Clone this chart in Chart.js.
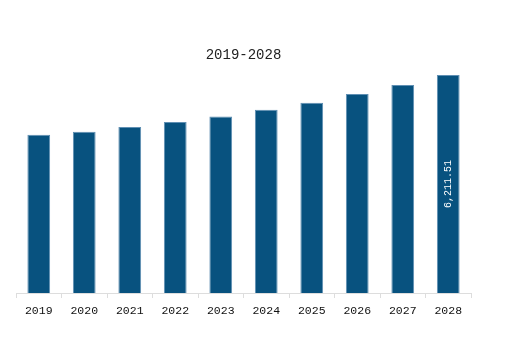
<!DOCTYPE html>
<html>
<head>
<meta charset="utf-8">
<script src="https://cdn.jsdelivr.net/npm/chart.js@4/dist/chart.umd.min.js"></script>
<style>
  html, body { margin: 0; padding: 0; background: #fff; }
  #wrap { width: 522px; height: 343px; }
</style>
</head>
<body>
<div id="wrap"><canvas id="myChart"></canvas></div>
<script>
// data
const years = ['2019', '2020', '2021', '2022', '2023', '2024', '2025', '2026', '2027', '2028'];
const marketValues = [4508, 4594, 4728, 4870, 5030, 5221, 5421, 5669, 5926, 6211.51];
const labelledYear = '2028'; // only the last bar carries its value
const titleText = '2019-2028';
const monoFont = '"Liberation Mono", "DejaVu Sans Mono", monospace';

// writes the value vertically inside the labelled bar
const barValuePlugin = {
  id: 'barValue',
  afterDatasetsDraw(chart) {
    const ctx = chart.ctx;
    const meta = chart.getDatasetMeta(0);
    const i = years.indexOf(labelledYear);
    const bar = meta.data[i];
    if (!bar) return;
    const txt = marketValues[i].toLocaleString('en-US', { minimumFractionDigits: 2 });
    ctx.save();
    ctx.translate(bar.x, (bar.y + bar.base) / 2);
    ctx.rotate(-Math.PI / 2);
    ctx.fillStyle = '#ffffff';
    ctx.font = '10px ' + monoFont;
    ctx.textAlign = 'center';
    ctx.textBaseline = 'middle';
    ctx.fillText(txt, 0, 0);
    ctx.restore();
  }
};

new Chart(document.getElementById('myChart'), {
  type: 'bar',
  data: {
    labels: years,
    datasets: [{
      data: marketValues,
      backgroundColor: '#08527f',
      borderColor: '#5f8fb3',
      borderWidth: 1,
      barPercentage: 0.5,
      categoryPercentage: 1
    }]
  },
  options: {
    responsive: true,
    maintainAspectRatio: false,
    animation: false,
    layout: { padding: { left: 16, right: 51, top: 0, bottom: 0 } },
    plugins: {
      legend: { display: false },
      tooltip: { enabled: false },
      title: {
        display: true,
        text: titleText,
        color: '#222',
        font: { family: monoFont, size: 14, weight: 'normal' },
        padding: { top: 46.4, bottom: 11.8 }
      }
    },
    scales: {
      x: {
        offset: true,
        afterFit(scale) { scale.height = 50; },
        grid: { drawOnChartArea: false, drawTicks: true, tickLength: 5, color: '#dddddd', offset: true },
        border: { color: '#dddddd' },
        ticks: { color: '#111', padding: 6, font: { family: monoFont, size: 11.5 } }
      },
      y: {
        display: false,
        min: 0,
        max: Math.max(...marketValues)
      }
    }
  },
  plugins: [barValuePlugin]
});
</script>
</body>
</html>
